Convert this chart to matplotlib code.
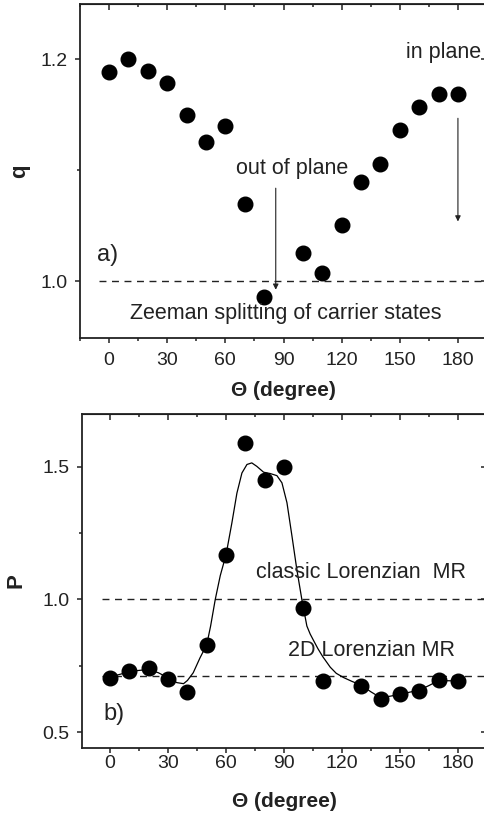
import matplotlib
matplotlib.use('Agg')
import matplotlib.pyplot as plt
from matplotlib.ticker import MultipleLocator, FormatStrFormatter

plt.rcParams['font.family'] = ['Liberation Sans', 'DejaVu Sans']

# panel a) q vs angle
theta_q = [0, 10, 20, 30, 40, 50, 60, 70, 80, 100, 110, 120, 130, 140, 150, 160, 170, 180]
q_vals = [1.189, 1.200, 1.190, 1.179, 1.150, 1.126, 1.140, 1.070, 0.986,
          1.026, 1.008, 1.051, 1.090, 1.106, 1.136, 1.157, 1.169, 1.169]

# panel b) P vs angle
theta_p = [0, 10, 20, 30, 40, 50, 60, 70, 80, 90, 100, 110, 130, 140, 150, 160, 170, 180]
p_vals = [0.705, 0.730, 0.742, 0.700, 0.650, 0.829, 1.169, 1.590, 1.450, 1.499,
          0.966, 0.693, 0.675, 0.627, 0.644, 0.656, 0.695, 0.693]

# fitted curve
fit_theta = [0, 5, 10, 15, 20, 25, 30, 34.5, 38, 40, 43, 46.5, 50, 52, 54.4, 57, 60, 63,
             65.6, 68.2, 70.8, 73.3, 75.9, 79.4, 82.8, 86.3, 88.9, 91.5, 94.1, 96.6,
             99.2, 101.8, 103.5, 105.3, 107.5, 110, 113.9, 117, 120.8, 125, 130, 135,
             140, 145, 150, 155, 160, 165, 170, 175, 180]
fit_p = [0.708, 0.718, 0.728, 0.733, 0.736, 0.724, 0.705, 0.687, 0.683, 0.695, 0.724,
         0.780, 0.830, 0.900, 1.000, 1.090, 1.169, 1.288, 1.400, 1.476, 1.508, 1.514,
         1.501, 1.479, 1.474, 1.466, 1.439, 1.364, 1.238, 1.113, 1.000, 0.900, 0.870,
         0.845, 0.815, 0.785, 0.745, 0.722, 0.706, 0.692, 0.677, 0.652, 0.630, 0.636,
         0.643, 0.651, 0.659, 0.676, 0.695, 0.694, 0.693]

q_ref = 1.0
p_classic = 1.0
p_2d = 0.713

DARK = '#222222'
TXT = 15.5

fig = plt.figure(figsize=(4.85, 8.15), dpi=100, facecolor='white')
ax1 = fig.add_axes([80 / 485, 1 - 338 / 815, 407 / 485, 334 / 815])
ax2 = fig.add_axes([81.7 / 485, 1 - 747.7 / 815, 405.3 / 485, 333.7 / 815])


def style(ax, ymaj, ymin, xpad):
    ax.xaxis.set_major_locator(MultipleLocator(30))
    ax.xaxis.set_minor_locator(MultipleLocator(15))
    ax.yaxis.set_major_locator(MultipleLocator(ymaj))
    ax.yaxis.set_minor_locator(MultipleLocator(ymin))
    ax.yaxis.set_major_formatter(FormatStrFormatter('%.1f'))
    ax.tick_params(which='major', direction='out', length=3.8, width=1.1,
                   labelsize=14, colors=DARK)
    ax.tick_params(which='minor', direction='out', length=2.2, width=1.1, colors=DARK)
    ax.tick_params(axis='x', which='major', pad=xpad)
    ax.tick_params(axis='y', which='major', pad=5)
    for s in ax.spines.values():
        s.set_linewidth(1.3)
        s.set_color(DARK)
    top = ax.secondary_xaxis('top')
    top.xaxis.set_major_locator(MultipleLocator(30))
    top.xaxis.set_minor_locator(MultipleLocator(15))
    top.tick_params(which='major', direction='in', length=4.3, width=1.1, labeltop=False, colors=DARK)
    top.tick_params(which='minor', direction='in', length=2.2, width=1.1, colors=DARK)
    right = ax.secondary_yaxis('right')
    right.yaxis.set_major_locator(MultipleLocator(ymaj))
    right.yaxis.set_minor_locator(MultipleLocator(ymin))
    right.tick_params(which='major', direction='in', length=4.3, width=1.1, labelright=False, colors=DARK)
    right.tick_params(which='minor', direction='in', length=2.2, width=1.1, colors=DARK)


# ---- panel a ----
ax1.plot([-5, 195], [q_ref, q_ref], ls=(0, (5, 4)), color=DARK, lw=1.0)
ax1.plot(theta_q, q_vals, 'o', color='black', ms=10.5, ls='none')
ax1.set_xlim(-15, 195)
ax1.set_ylim(0.949, 1.25)
style(ax1, 0.2, 0.1, 6.5)
ax1.set_xlabel('Θ (degree)', fontsize=15, fontweight='bold', color=DARK, labelpad=8.5)
ax1.set_ylabel('q', fontsize=16, fontweight='bold', color=DARK)
ax1.yaxis.set_label_coords(-0.123, 0.5)

ax1.text(-6.3, 1.024, 'a)', fontsize=17, color=DARK, va='center', ha='left')
ax1.text(94.3, 1.102, 'out of plane', fontsize=TXT, color=DARK, ha='center', va='center')
ax1.text(153, 1.206, 'in plane', fontsize=TXT, color=DARK, ha='left', va='center')
ax1.text(91.1, 0.971, 'Zeeman splitting of carrier states', fontsize=TXT, color=DARK,
         ha='center', va='center')
arrow = dict(arrowstyle='-|>', color=DARK, lw=0.8, mutation_scale=8, shrinkA=0, shrinkB=0)
ax1.annotate('', xy=(86, 0.9925), xytext=(86, 1.084), arrowprops=arrow)
ax1.annotate('', xy=(180, 1.054), xytext=(180, 1.147), arrowprops=arrow)

# ---- panel b ----
ax2.plot([-4, 195], [p_classic, p_classic], ls=(0, (5, 4)), color=DARK, lw=1.0)
ax2.plot([-4, 195], [p_2d, p_2d], ls=(0, (5, 4)), color=DARK, lw=1.0)
ax2.plot(fit_theta, fit_p, '-', color='black', lw=0.9)
ax2.plot(theta_p, p_vals, 'o', color='black', ms=10.5, ls='none')
ax2.set_xlim(-14.7, 195)
ax2.set_ylim(0.442, 1.698)
style(ax2, 0.5, 0.25, 1.2)
ax2.set_xlabel('Θ (degree)', fontsize=15, fontweight='bold', color=DARK, labelpad=15)
ax2.set_ylabel('P', fontsize=16, fontweight='bold', color=DARK)
ax2.yaxis.set_label_coords(-0.135, 0.5)

ax2.text(-3.6, 0.567, 'b)', fontsize=17, color=DARK, va='center', ha='left')
ax2.text(129.6, 1.10, 'classic Lorenzian  MR', fontsize=TXT, color=DARK, ha='center', va='center')
ax2.text(135.3, 0.806, '2D Lorenzian MR', fontsize=TXT, color=DARK, ha='center', va='center')

fig.savefig('out.png', dpi=100, facecolor='white')
